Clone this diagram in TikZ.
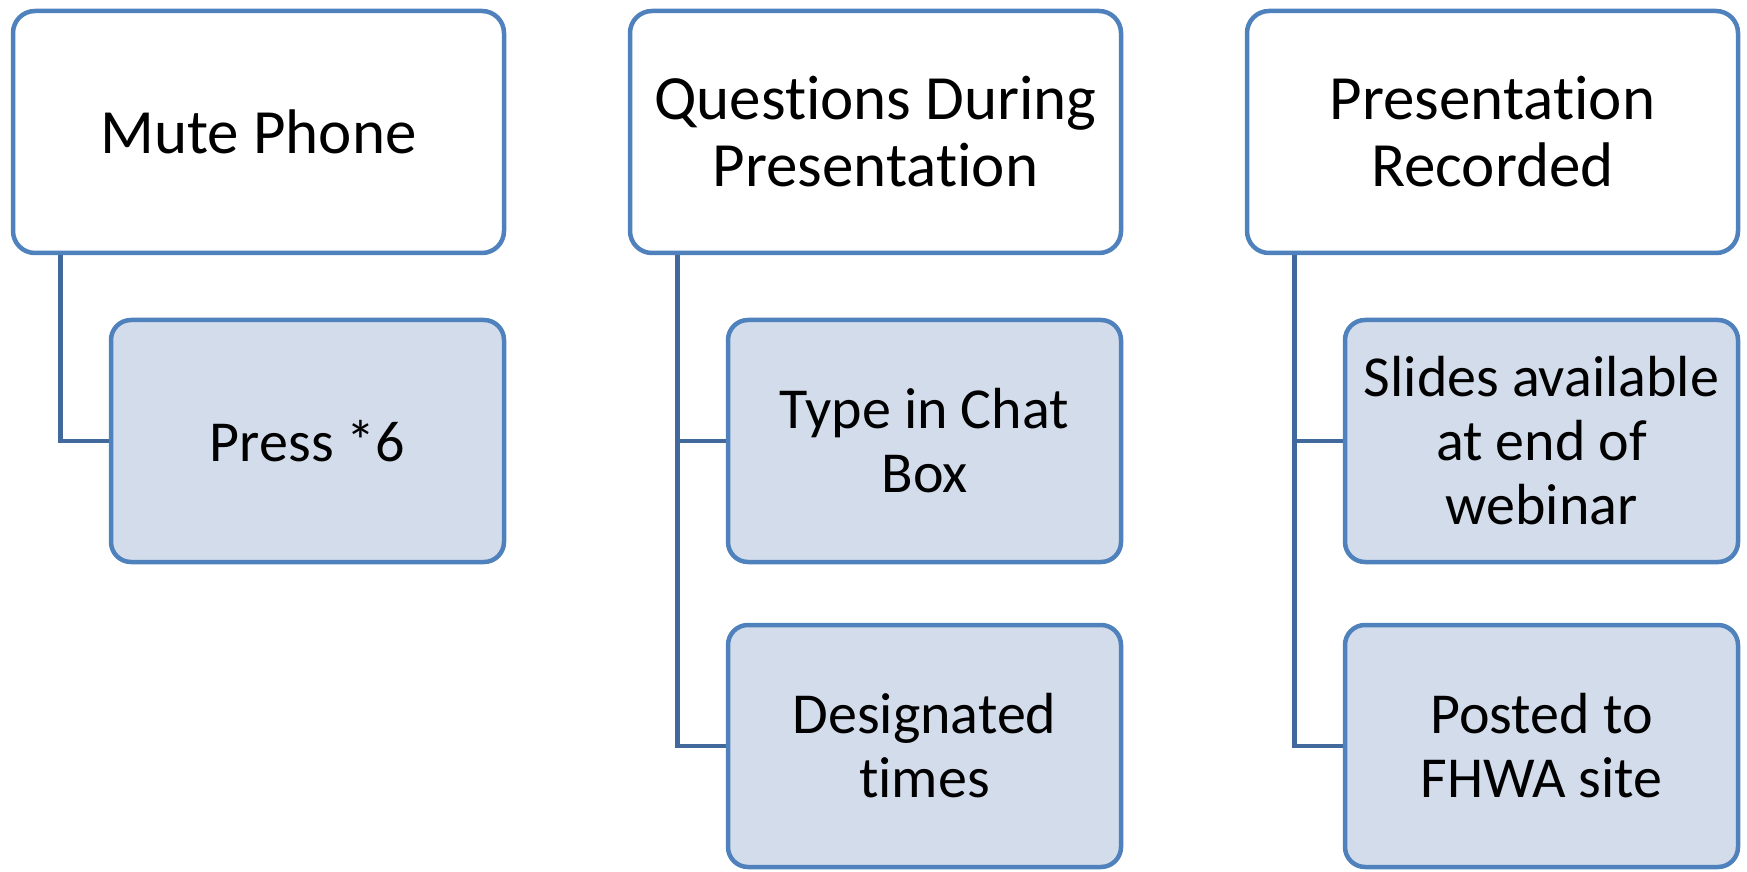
\documentclass[tikz,border=0pt]{standalone}
\usepackage{fontspec}
\setmainfont{Carlito}[Ligatures={NoCommon}]
\usetikzlibrary{backgrounds}
\definecolor{boxblue}{RGB}{79, 129, 189}
\definecolor{linkblue}{RGB}{65, 105, 155}
\definecolor{subfill}{RGB}{211, 220, 235}

\begin{document}
\begin{tikzpicture}[x=1pt, y=1pt,
    topbox/.style={draw=boxblue, line width=4.5pt, fill=white, rounded corners=22pt,
        minimum width=491pt, minimum height=242pt, align=center,
        font=\fontsize{63}{67}\selectfont},
    subbox/.style={draw=boxblue, line width=4.5pt, fill=subfill, rounded corners=20pt,
        minimum width=393pt, minimum height=242pt, align=center,
        font=\fontsize{58}{64}\selectfont},
    link/.style={draw=linkblue, line width=4.5pt}]

    \useasboundingbox (0,0) rectangle (1747,871);

    \def\D{617}

    % ==========================================================
    % mute
    % ==========================================================
    \begin{scope}
        \node[topbox] (mute) at (258.5,739) {Mute Phone};
        \node[subbox] (press) at (307.5,430) {Press *6};
        \coordinate (bar1) at (60.5,0);
        \begin{scope}[on background layer]
            \draw[link] (mute.south -| bar1) |- (press.west);
        \end{scope}
    \end{scope}

    % ==========================================================
    % questions
    % ==========================================================
    \begin{scope}[xshift=\D]
        \node[topbox] (quest) at (258.5,739) {Questions During\\Presentation};
        \node[subbox] (chat) at (307.5,430) {Type in Chat\\Box};
        \node[subbox] (times) at (307.5,125) {Designated\\times};
        \coordinate (bar2) at (60.5,0);
        \begin{scope}[on background layer]
            \draw[link] (quest.south -| bar2) |- (times.west);
            \draw[link] (chat.west -| bar2) -- (chat.west);
        \end{scope}
    \end{scope}

    % ==========================================================
    % recording
    % ==========================================================
    \begin{scope}[xshift=2*\D]
        \node[topbox] (record) at (258.5,739) {Presentation\\Recorded};
        \node[subbox] (slides) at (307.5,430) {Slides available\\at end of\\webinar};
        \node[subbox] (posted) at (307.5,125) {Posted to\\FHWA site};
        \coordinate (bar3) at (60.5,0);
        \begin{scope}[on background layer]
            \draw[link] (record.south -| bar3) |- (posted.west);
            \draw[link] (slides.west -| bar3) -- (slides.west);
        \end{scope}
    \end{scope}

\end{tikzpicture}
\end{document}
